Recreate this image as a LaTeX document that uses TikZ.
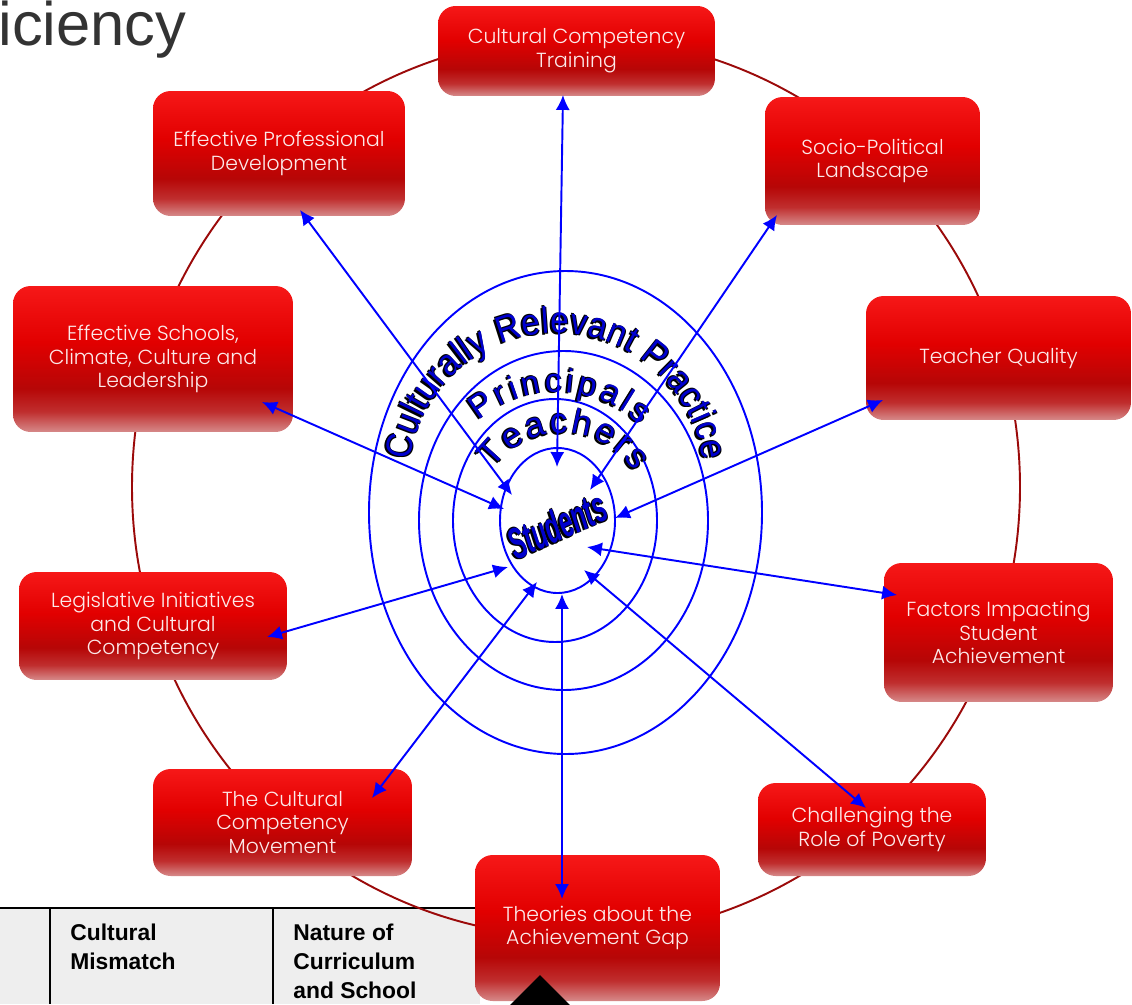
\documentclass[tikz,border=0pt]{standalone}
\usepackage{fontspec}
\setmainfont{Poppins Light}
\newfontfamily\arialfont{Liberation Sans}
\newfontfamily\wordfont[FakeStretch=0.9]{Liberation Sans}
\usetikzlibrary{arrows.meta,decorations.text}

\definecolor{ringred}{RGB}{155,10,10}
\definecolor{ringblue}{RGB}{0,0,255}
\definecolor{wordblue}{RGB}{0,0,205}
\definecolor{boxtop}{RGB}{246,24,24}
\definecolor{boxmid}{RGB}{226,0,0}
\definecolor{boxdark}{RGB}{182,6,6}
\definecolor{boxbot}{RGB}{214,138,138}
\definecolor{boxtext}{RGB}{252,234,234}
\definecolor{tablegray}{RGB}{238,238,238}
\definecolor{titlegray}{RGB}{51,51,51}
\pgfdeclareverticalshading{redbox}{100bp}{color(0bp)=(boxbot); color(25bp)=(boxbot); color(32bp)=(boxdark!70!boxbot); color(40bp)=(boxdark); color(56bp)=(boxmid); color(75bp)=(boxtop); color(100bp)=(boxtop)}

\begin{document}
\begin{tikzpicture}[
		x=0.02cm, y=-0.02cm,
		link/.style={ringblue, line width=1.1pt, {Latex[length=8.5pt,width=8pt]}-{Latex[length=8.5pt,width=8pt]}},
		ring/.style={ringblue, line width=1.1pt}]
	\tikzstyle{topic}=[rectangle, rounded corners=10pt, shading=redbox, inner sep=0pt, text=boxtext, align=center, font=\fontsize{11.6}{13.6}\selectfont]
	\tikzstyle{cell}=[anchor=north west, inner sep=0pt, align=left, font=\arialfont\bfseries\fontsize{13}{16.4}\selectfont]
	\useasboundingbox (0,0) rectangle (1132,1004);

	% title left over from the slide
	\node[anchor=base west, inner sep=0pt, text=titlegray, font=\arialfont\fontsize{35}{35}\selectfont] (title) at (-2,45) {iciency};

	% table under the ring
	\fill[tablegray] (0,908) rectangle (480,1004);
	\draw[line width=1.2pt] (0,908) -- (480,908) (50,908) -- (50,1004) (273,908) -- (273,1004);
	\node[cell] (mismatch) at (70,924) {Cultural\\Mismatch};
	\node[cell] (curriculum) at (293,924) {Nature of\\Curriculum\\and School};

	% outer ring
	\draw[ringred, line width=1.1pt] (576,487) ellipse [x radius=444, y radius=450];

	% topics
	\node[topic, minimum width=5.54cm, minimum height=1.8cm] (cct) at (576.5,51) {Cultural Competency\\Training};
	\node[topic, minimum width=4.3cm, minimum height=2.56cm] (socio) at (872.5,161) {Socio-Political\\Landscape};
	\node[topic, minimum width=5.3cm, minimum height=2.48cm] (quality) at (998.5,358) {Teacher Quality};
	\node[topic, minimum width=4.58cm, minimum height=2.78cm] (factors) at (998.5,632.5) {Factors Impacting\\Student\\Achievement};
	\node[topic, minimum width=4.56cm, minimum height=1.86cm] (poverty) at (872,829.5) {Challenging the\\Role of Poverty};
	\node[topic, minimum width=4.9cm, minimum height=2.92cm] (theories) at (597.5,928) {Theories about the\\Achievement Gap};
	\node[topic, minimum width=5.18cm, minimum height=2.14cm] (movement) at (282.5,822.5) {The Cultural\\Competency\\Movement};
	\node[topic, minimum width=5.36cm, minimum height=2.16cm] (legislative) at (153,626) {Legislative Initiatives\\and Cultural\\Competency};
	\node[topic, minimum width=5.6cm, minimum height=2.92cm] (schools) at (153,359) {Effective Schools,\\Climate, Culture and\\Leadership};
	\node[topic, minimum width=5.04cm, minimum height=2.5cm] (profdev) at (279,153.5) {Effective Professional\\Development};

	% rings of practice
	\draw[ring] (565.5,512.5) ellipse [x radius=196.5, y radius=241.5];
	\draw[ring] (563.5,520.5) ellipse [x radius=144.5, y radius=169.5];
	\draw[ring] (555,520.5) ellipse [x radius=102, y radius=121.5];
	\draw[ring] (557.5,520.5) ellipse [x radius=57.5, y radius=72.5];

	\foreach \dx/\dy/\col in {-1.8/1.6/black, -0.7/-0.7/black, 0.7/0.7/black, 0/0/wordblue} {
		\path[decorate, decoration={text along path, text align={fit to path}, text color=\col,
			text={|\wordfont\fontsize{21}{21}\selectfont|Culturally Relevant Practice}}]
			([shift={(188:148)}]556.5+\dx,481+\dy) arc[start angle=188, end angle=352, radius=148];
		\path[decorate, decoration={text along path, text align={fit to path}, text color=\col,
			text={|\arialfont\fontsize{19}{19}\selectfont|Principals}}]
			([shift={(230:122)}]557+\dx,514+\dy) arc[start angle=230, end angle=313, radius=122];
		\path[decorate, decoration={text along path, text align={fit to path}, text color=\col,
			text={|\arialfont\fontsize{20}{20}\selectfont|Teachers}}]
			([shift={(215:85)}]563+\dx,518+\dy) arc[start angle=215, end angle=327, radius=85];
		\node[rotate=24, xscale=0.55, text=\col, font=\arialfont\bfseries\itshape\fontsize{25}{25}\selectfont] (students-\col) at (557+\dx,525+\dy) {Students};
	}

	% arrow ends
	\coordinate (cct-b) at (563,95);       \coordinate (cct-s) at (557,467);
	\coordinate (profdev-b) at (300,210);  \coordinate (profdev-s) at (512,495);
	\coordinate (socio-b) at (777,215);    \coordinate (socio-s) at (590,490);
	\coordinate (quality-b) at (883,400);  \coordinate (quality-s) at (615,518);
	\coordinate (factors-b) at (897,595);  \coordinate (factors-s) at (587,547);
	\coordinate (poverty-b) at (866,808);  \coordinate (poverty-s) at (584,570);
	\coordinate (theories-b) at (562,899); \coordinate (theories-s) at (562,594);
	\coordinate (movement-b) at (372,798); \coordinate (movement-s) at (537,582);
	\coordinate (legislative-b) at (267,637); \coordinate (legislative-s) at (508,567);
	\coordinate (schools-b) at (262,402);  \coordinate (schools-s) at (504,509);

	\foreach \t in {cct,profdev,socio,quality,factors,poverty,theories,movement,legislative,schools}
		\draw[link] (\t-b) -- (\t-s);

	% marker at the foot of the slide
	\fill (540,975) -- (575,1010) -- (505,1010) -- cycle;
\end{tikzpicture}
\end{document}
